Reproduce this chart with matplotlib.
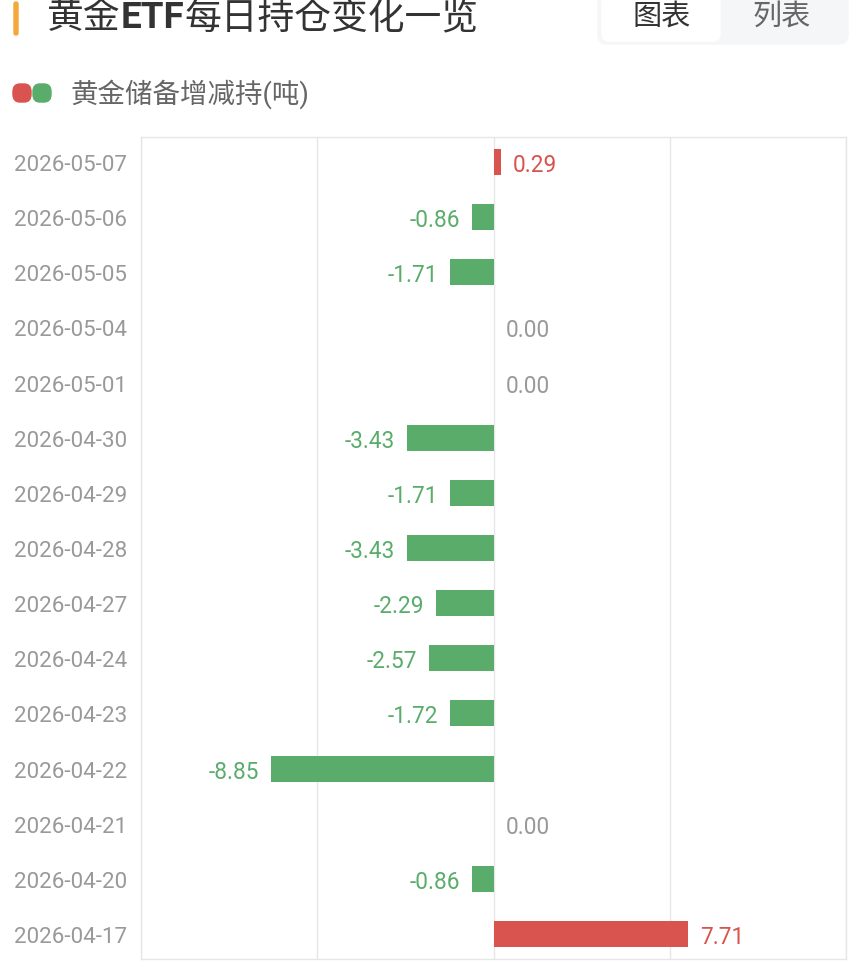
import matplotlib.pyplot as plt
from matplotlib.patches import FancyBboxPatch

plt.rcParams['font.family'] = ['Roboto', 'Noto Sans CJK SC', 'DejaVu Sans']

dates = ['2026-05-07', '2026-05-06', '2026-05-05', '2026-05-04', '2026-05-01',
         '2026-04-30', '2026-04-29', '2026-04-28', '2026-04-27', '2026-04-24',
         '2026-04-23', '2026-04-22', '2026-04-21', '2026-04-20', '2026-04-17']
changes = [0.29, -0.86, -1.71, 0.00, 0.00, -3.43, -1.71, -3.43, -2.29, -2.57,
           -1.72, -8.85, 0.00, -0.86, 7.71]

RED = '#d9544f'
GREEN = '#5aac6b'
GRID = '#e6e6e6'

fig = plt.figure(figsize=(8.5, 9.62), dpi=100)

# header
fig.patches.append(FancyBboxPatch((14 / 850, 1 - 36 / 962), 4 / 850, 33 / 962,
                                  boxstyle='round,pad=0,rounding_size=0.002',
                                  transform=fig.transFigure, color='#f5a83a'))
# title in pieces, "ETF" bold
renderer = fig.canvas.get_renderer()
x = 47 / 850
for part, w in [('黄金', 'normal'), ('ETF', 'bold'), ('每日持仓变化一览', 'normal')]:
    t = fig.text(x, 1 - 18 / 962, part, fontsize=26.5, fontweight=w,
                 color='#333333', va='center', ha='left')
    x += t.get_window_extent(renderer).width / 850

fig.patches.append(FancyBboxPatch((598 / 850, 1 - 45 / 962), 250 / 850, 50 / 962,
                                  boxstyle='round,pad=0,rounding_size=0.01',
                                  transform=fig.transFigure, color='#f5f6f8'))
fig.patches.append(FancyBboxPatch((602 / 850, 1 - 42 / 962), 118 / 850, 45 / 962,
                                  boxstyle='round,pad=0,rounding_size=0.008',
                                  transform=fig.transFigure, color='white'))
fig.text(662 / 850, 1 - 17 / 962, '图表', fontsize=21, color='#333333', ha='center', va='center')
fig.text(782 / 850, 1 - 17 / 962, '列表', fontsize=21, color='#666666', ha='center', va='center')

# legend
for x0, c in [(13, RED), (33, GREEN)]:
    fig.patches.append(FancyBboxPatch((x0 / 850, 1 - 103 / 962), 18 / 850, 18 / 962,
                                      boxstyle='round,pad=0,rounding_size=0.008',
                                      transform=fig.transFigure, color=c))
fig.text(70 / 850, 1 - 94 / 962, '黄金储备增减持(吨)', fontsize=19.8, color='#666666',
         ha='left', va='center')

ax = fig.add_axes([141 / 850, 2 / 962, 705 / 850, 822 / 962])
y = list(range(len(dates)))
colors = [RED if v > 0 else GREEN for v in changes]
ax.barh(y, changes, height=0.47, color=colors, zorder=3)

for i, v in enumerate(changes):
    if v > 0:
        c, ha, off = RED, 'left', 12
    elif v < 0:
        c, ha, off = GREEN, 'right', -12
    else:
        c, ha, off = '#999999', 'left', 12
    ax.annotate(f'{v:.2f}', (v, i), xytext=(off * 0.72, 0), textcoords='offset points',
                ha=ha, va='center_baseline', fontsize=16.3, color=c)

ax.set_xlim(-14, 14)
ax.set_ylim(len(dates) - 0.547, -0.453)
ax.set_xticks([-14, -7, 0, 7, 14])
ax.set_xticklabels([])
ax.tick_params(axis='x', length=0)
ax.set_yticks(y)
ax.set_yticklabels(dates)
ax.tick_params(axis='y', length=0, pad=10, labelsize=16.1, labelcolor='#999999')
ax.grid(axis='x', color=GRID, linewidth=1, zorder=0)
for s in ax.spines.values():
    s.set_color(GRID)
    s.set_linewidth(1)

fig.savefig('out.png', dpi=100)
